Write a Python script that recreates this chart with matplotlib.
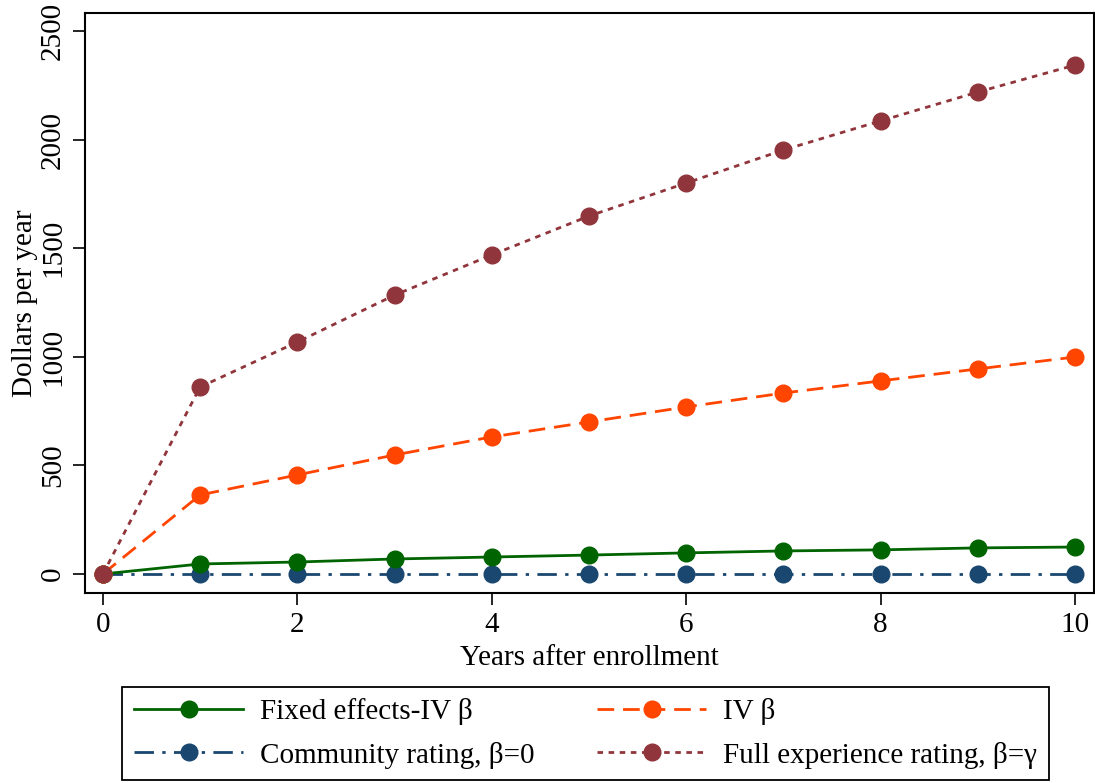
import matplotlib
matplotlib.use("Agg")
import matplotlib.pyplot as plt

years = [0, 1, 2, 3, 4, 5, 6, 7, 8, 9, 10]
fe_iv = [0, 46, 55, 69, 78, 87, 97, 106, 111, 120, 124]
iv = [0, 364, 456, 548, 631, 700, 769, 833, 889, 944, 999]
community = [0, 0, 0, 0, 0, 0, 0, 0, 0, 0, 0]
full_exp = [0, 861, 1068, 1284, 1469, 1648, 1800, 1952, 2086, 2219, 2343]

labels = ["Fixed effects-IV β", "IV β", "Community rating, β=0",
          "Full experience rating, β=γ"]
xticks = [0, 2, 4, 6, 8, 10]
yticks = [0, 500, 1000, 1500, 2000, 2500]

plt.rcParams['font.family'] = ['Liberation Serif', 'DejaVu Serif']
plt.rcParams['font.size'] = 21
plt.rcParams['mathtext.fontset'] = 'stix'

fig = plt.figure(figsize=(10.95, 7.83), dpi=100)
ax = fig.add_axes([0.0776, 0.2427, 0.9214, 0.7407])

lw = 2.0
ms = 12
c_fe = '#006400'
c_iv = '#ff4500'
c_cm = '#1a476f'
c_fx = '#90353b'

h_cm, = ax.plot(years, community, color=c_cm, lw=lw, marker='o', ms=ms,
                linestyle=(0, (7, 3, 1.2, 3)), label=labels[2], zorder=3)
h_fe, = ax.plot(years, fe_iv, color=c_fe, lw=lw, marker='o', ms=ms,
                linestyle='-', label=labels[0], zorder=4)
h_iv, = ax.plot(years, iv, color=c_iv, lw=lw, marker='o', ms=ms,
                linestyle=(0, (6, 3.2)), label=labels[1], zorder=4)
h_fx, = ax.plot(years, full_exp, color=c_fx, lw=lw, marker='o', ms=ms,
                linestyle=(0, (2, 2)), label=labels[3], zorder=5)

ax.set_xlim(-0.185, 10.195)
ax.set_ylim(-87.5, 2583)
ax.set_xticks(xticks)
ax.set_yticks(yticks)
ax.set_yticklabels([str(v) for v in yticks], rotation=90, va='center')
ax.tick_params(direction='out', length=8.5, width=1.2, pad=5)
for s in ax.spines.values():
    s.set_linewidth(1.5)
ax.set_xlabel("Years after enrollment", labelpad=5)
ax.set_ylabel("Dollars per year")
ax.yaxis.set_label_coords(-0.047, 0.5)

leg = fig.legend([h_fe, h_cm, h_iv, h_fx],
                 [labels[0], labels[2], labels[1], labels[3]],
                 ncol=2, loc='center', bbox_to_anchor=(0.5347, 0.0632),
                 fancybox=False, edgecolor='black', framealpha=1,
                 handlelength=3.75, handletextpad=0.58, columnspacing=2.13,
                 borderpad=0.4, labelspacing=0.55, borderaxespad=0)
leg.get_frame().set_linewidth(1.3)

fig.savefig("out.png", dpi=100)
